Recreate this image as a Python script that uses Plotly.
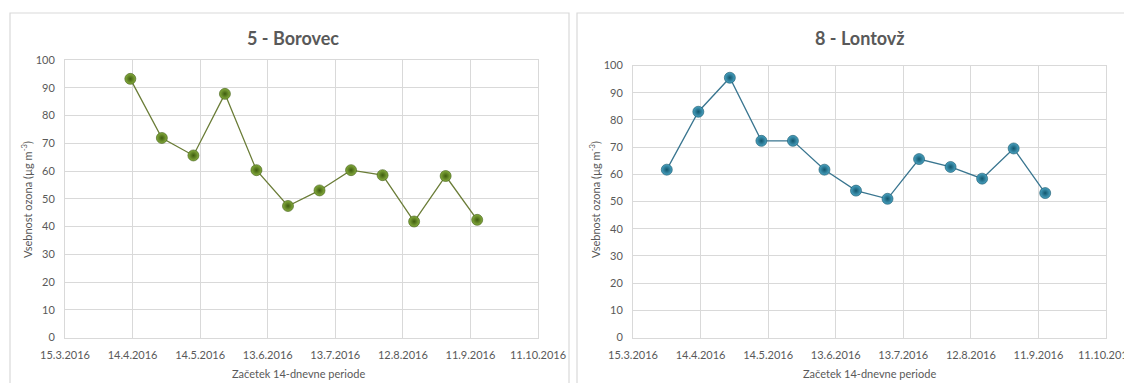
import plotly.graph_objects as go

# ---- data ----
tick_dates = ["2016-03-15", "2016-04-14", "2016-05-14", "2016-06-13",
              "2016-07-13", "2016-08-12", "2016-09-11", "2016-10-11"]
tick_labels = ["15.3.2016", "14.4.2016", "14.5.2016", "13.6.2016",
               "13.7.2016", "12.8.2016", "11.9.2016", "11.10.2016"]

borovec_dates = ["2016-04-13", "2016-04-27", "2016-05-11", "2016-05-25",
                 "2016-06-08", "2016-06-22", "2016-07-06", "2016-07-20",
                 "2016-08-03", "2016-08-17", "2016-08-31", "2016-09-14"]
borovec_values = [93.2, 71.9, 65.6, 87.8, 60.3, 47.4, 53.0, 60.3, 58.5, 41.8, 58.2, 42.4]

lontovz_dates = ["2016-03-30", "2016-04-13", "2016-04-27", "2016-05-11",
                 "2016-05-25", "2016-06-08", "2016-06-22", "2016-07-06",
                 "2016-07-20", "2016-08-03", "2016-08-17", "2016-08-31",
                 "2016-09-14"]
lontovz_values = [61.7, 83.0, 95.5, 72.3, 72.3, 61.7, 54.0, 51.0, 65.6, 62.7, 58.4, 69.5, 53.1]

titles = ["5 - Borovec", "8 - Lontovž"]
x_title = "Začetek 14-dnevne periode"
y_title = "Vsebnost ozona (µg m<sup>-3</sup>)"

# the page body has an 8 px margin, so the figure starts at (8, 8) in the window
OFF = 8
W, H = 1132 - OFF, 383 - OFF
FONT = "Lato, 'Open Sans', sans-serif"
TXT = "#595959"
GRID = "#d9d9d9"

def px_x(v):
    return (v - OFF) / W

def px_y(v):
    return 1 - (v - OFF) / H

fig = go.Figure()

fig.add_trace(go.Scatter(
    x=borovec_dates, y=borovec_values, mode="lines+markers",
    xaxis="x", yaxis="y",
    line=dict(color="#6b7d38", width=1.3),
    marker=dict(size=11, color="#86ad3e",
                gradient=dict(type="radial", color="#3e5c0e"),
                line=dict(color="#3e5a12", width=0.6)),
    showlegend=False, hoverinfo="x+y"))

fig.add_trace(go.Scatter(
    x=lontovz_dates, y=lontovz_values, mode="lines+markers",
    xaxis="x2", yaxis="y2",
    line=dict(color="#3a7690", width=1.3),
    marker=dict(size=11, color="#4aa3c2",
                gradient=dict(type="radial", color="#12566d"),
                line=dict(color="#145468", width=0.6)),
    showlegend=False, hoverinfo="x+y"))

xcommon = dict(type="date", range=[tick_dates[0], tick_dates[-1]],
               tickmode="array", tickvals=tick_dates, ticktext=tick_labels,
               showgrid=True, gridcolor=GRID, gridwidth=1,
               showline=True, linecolor=GRID, mirror=True,
               zeroline=False, ticks="", automargin=False,
               ticklabeloverflow="allow", ticklabelstandoff=7,
               tickfont=dict(size=11, color=TXT, family=FONT),
               fixedrange=True)
ycommon = dict(range=[0, 100], dtick=10, tick0=0,
               showgrid=True, gridcolor=GRID, gridwidth=1,
               showline=True, linecolor=GRID, mirror=True,
               zeroline=False, ticks="", automargin=False,
               ticklabelstandoff=7,
               tickfont=dict(size=11, color=TXT, family=FONT),
               fixedrange=True)

fig.update_layout(
    template="none",
    width=W, height=H,
    margin=dict(l=0, r=0, t=0, b=0, pad=0),
    paper_bgcolor="white", plot_bgcolor="white",
    font=dict(family=FONT, color=TXT),
    xaxis=dict(domain=[px_x(65), px_x(538)], anchor="y", **xcommon),
    yaxis=dict(domain=[px_y(337.5), px_y(60)], anchor="x", **ycommon),
    xaxis2=dict(domain=[px_x(633), px_x(1106)], anchor="y2", **xcommon),
    yaxis2=dict(domain=[px_y(337.5), px_y(65.5)], anchor="x2", **ycommon),
)

# panel borders
fig.add_shape(type="rect", xref="paper", yref="paper",
              x0=px_x(10), x1=px_x(569), y0=px_y(395), y1=px_y(13),
              line=dict(color="#d9d9d9", width=1.2), layer="below")
fig.add_shape(type="rect", xref="paper", yref="paper",
              x0=px_x(577), x1=px_x(1145), y0=px_y(395), y1=px_y(13),
              line=dict(color="#d9d9d9", width=1.2), layer="below")

# titles
for cx, t in zip([293, 860], titles):
    fig.add_annotation(text="<b>" + t + "</b>", xref="paper", yref="paper",
                       x=px_x(cx), y=px_y(38), xanchor="center", yanchor="middle",
                       showarrow=False, font=dict(size=18, color=TXT, family=FONT))

# x-axis titles
for cx in [298, 869]:
    fig.add_annotation(text=x_title, xref="paper", yref="paper",
                       x=px_x(cx), y=px_y(373), xanchor="center", yanchor="middle",
                       showarrow=False, font=dict(size=11, color=TXT, family=FONT))

# y-axis titles
for cx, cy in [(26, 200), (594, 200)]:
    fig.add_annotation(text=y_title, xref="paper", yref="paper",
                       x=px_x(cx), y=px_y(cy), xanchor="center", yanchor="middle",
                       textangle=-90, showarrow=False,
                       font=dict(size=11, color=TXT, family=FONT))

fig.write_html("out.html")
